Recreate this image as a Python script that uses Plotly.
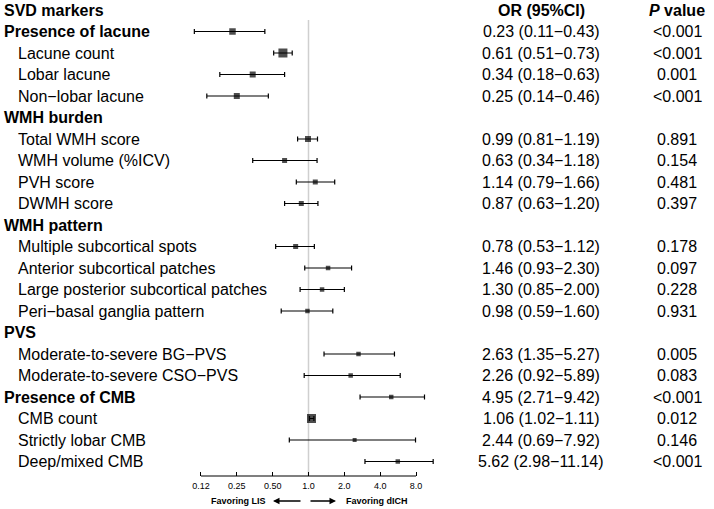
import numpy as np
import plotly.graph_objects as go

# ---------------- data ----------------
labels = ["SVD markers", "Presence of lacune", "Lacune count", "Lobar lacune", "Non\u2212lobar lacune",
          "WMH burden", "Total WMH score", "WMH volume (%ICV)", "PVH score", "DWMH score",
          "WMH pattern", "Multiple subcortical spots", "Anterior subcortical patches",
          "Large posterior subcortical patches", "Peri\u2212basal ganglia pattern",
          "PVS", "Moderate-to-severe BG\u2212PVS", "Moderate-to-severe CSO\u2212PVS",
          "Presence of CMB", "CMB count", "Strictly lobar CMB", "Deep/mixed CMB"]
is_header = [True, True, False, False, False,
             True, False, False, False, False,
             True, False, False, False, False,
             True, False, False,
             True, False, False, False]
odds_ratio = [None, 0.23, 0.61, 0.34, 0.25,
              None, 0.99, 0.63, 1.14, 0.87,
              None, 0.78, 1.46, 1.30, 0.98,
              None, 2.63, 2.26,
              4.95, 1.06, 2.44, 5.62]
ci_low = [None, 0.11, 0.51, 0.18, 0.14,
          None, 0.81, 0.34, 0.79, 0.63,
          None, 0.53, 0.93, 0.85, 0.59,
          None, 1.35, 0.92,
          2.71, 1.02, 0.69, 2.98]
ci_high = [None, 0.43, 0.73, 0.63, 0.46,
           None, 1.19, 1.18, 1.66, 1.20,
           None, 1.12, 2.30, 2.00, 1.60,
           None, 5.27, 5.89,
           9.42, 1.11, 7.92, 11.14]
or_text = ["OR (95%CI)", "0.23 (0.11\u22120.43)", "0.61 (0.51\u22120.73)", "0.34 (0.18\u22120.63)",
           "0.25 (0.14\u22120.46)", "", "0.99 (0.81\u22121.19)", "0.63 (0.34\u22121.18)",
           "1.14 (0.79\u22121.66)", "0.87 (0.63\u22121.20)", "", "0.78 (0.53\u22121.12)",
           "1.46 (0.93\u22122.30)", "1.30 (0.85\u22122.00)", "0.98 (0.59\u22121.60)", "",
           "2.63 (1.35\u22125.27)", "2.26 (0.92\u22125.89)", "4.95 (2.71\u22129.42)",
           "1.06 (1.02\u22121.11)", "2.44 (0.69\u22127.92)", "5.62 (2.98\u221211.14)"]
p_text = ["P value", "<0.001", "<0.001", "0.001", "<0.001", "", "0.891", "0.154", "0.481", "0.397",
          "", "0.178", "0.097", "0.228", "0.931", "", "0.005", "0.083", "<0.001", "0.012",
          "0.146", "<0.001"]
tick_values = [0.125, 0.25, 0.5, 1.0, 2.0, 4.0, 8.0]
tick_labels = ["0.12", "0.25", "0.50", "1.0", "2.0", "4.0", "8.0"]

# box sizes (style)
box_size = [0, 6.5, 9, 6, 6, 0, 6, 5, 5, 5, 0, 5, 4.5, 4.5, 4.5, 0, 4.5, 4.5, 4.5, 9, 4, 4.5]

# ---------------- figure ----------------
W, H = 714, 509
FONT = "Liberation Sans, Arial, sans-serif"
FS = 16

rows = list(range(len(labels)))
idx = [i for i in rows if odds_ratio[i] is not None]
x = np.log2([odds_ratio[i] for i in idx])
lo = np.log2([ci_low[i] for i in idx])
hi = np.log2([ci_high[i] for i in idx])

fig = go.Figure()
fig.add_trace(go.Scatter(
    x=x, y=[rows[i] for i in idx], mode="markers",
    marker=dict(symbol="square", color="black", size=[box_size[i] for i in idx],
                line=dict(width=0)),
    error_x=dict(type="data", symmetric=False, array=hi - x, arrayminus=x - lo,
                 color="black", thickness=1.2, width=2.5),
    showlegend=False, hoverinfo="skip", cliponaxis=False,
))

annotations = []
for i in rows:
    txt = labels[i]
    if is_header[i]:
        txt = "<b>" + txt + "</b>"
    annotations.append(dict(x=(2 if is_header[i] else 16) / W, xref="paper", y=i, yref="y",
                            text=txt, showarrow=False, xanchor="left", yanchor="middle",
                            font=dict(size=FS, color="black", family=FONT)))
    if or_text[i]:
        t = "<b>" + or_text[i] + "</b>" if i == 0 else or_text[i]
        annotations.append(dict(x=541 / W, xref="paper", y=i, yref="y", text=t,
                                showarrow=False, xanchor="center", yanchor="middle",
                                font=dict(size=FS, color="black", family=FONT)))
    if p_text[i]:
        t = "<b><i>P</i> value</b>" if i == 0 else p_text[i].replace("<", "&lt;")
        annotations.append(dict(x=677 / W, xref="paper", y=i, yref="y", text=t,
                                showarrow=False, xanchor="center", yanchor="middle",
                                font=dict(size=FS, color="black", family=FONT)))

# favoring labels and arrows
y_fav = (476 - 501) / 476
annotations.append(dict(x=239 / W, xref="paper", y=y_fav, yref="paper", text="<b>Favoring LIS</b>",
                        showarrow=False, yanchor="middle", xanchor="center",
                        font=dict(size=9, color="black", family=FONT)))
annotations.append(dict(x=377 / W, xref="paper", y=y_fav, yref="paper", text="<b>Favoring dICH</b>",
                        showarrow=False, yanchor="middle", xanchor="center",
                        font=dict(size=9, color="black", family=FONT)))
annotations.append(dict(x=273 / W, xref="paper", y=y_fav, yref="paper", text="",
                        showarrow=True, ax=29, ay=0, arrowhead=2, arrowsize=1, arrowwidth=1.3,
                        arrowcolor="black"))
annotations.append(dict(x=336 / W, xref="paper", y=y_fav, yref="paper", text="",
                        showarrow=True, ax=-27, ay=0, arrowhead=2, arrowsize=1, arrowwidth=1.3,
                        arrowcolor="black"))

shapes = [
    # reference line at OR = 1
    dict(type="line", xref="x", yref="paper", x0=0, x1=0, y0=0, y1=1 - 20 / 476,
         line=dict(color="#cfcfcf", width=1.5), layer="below"),
    # x axis line spanning tick range
    dict(type="line", xref="x", yref="paper", x0=np.log2(tick_values[0]), x1=np.log2(tick_values[-1]),
         y0=0, y1=0, line=dict(color="black", width=1.2)),
]

fig.update_layout(
    width=W, height=H, margin=dict(l=0, r=0, t=0, b=33),
    paper_bgcolor="white", plot_bgcolor="white",
    xaxis=dict(range=[(0 - 308.5) / 35.85, (W - 308.5) / 35.85], domain=[0, 1],
               tickvals=np.log2(tick_values), ticktext=tick_labels,
               ticks="inside", ticklen=4, tickwidth=1, tickcolor="black",
               ticklabelstandoff=3,
               showgrid=False, zeroline=False, showline=False,
               tickfont=dict(size=9, color="black", family=FONT), fixedrange=True),
    yaxis=dict(range=[(476 - 10) / 21.5, -10 / 21.5], visible=False, fixedrange=True),
    annotations=annotations, shapes=shapes, showlegend=False,
)

fig.write_html("out.html", config={"displayModeBar": False},
               post_script="document.body.style.margin='0';document.body.style.padding='0';")
